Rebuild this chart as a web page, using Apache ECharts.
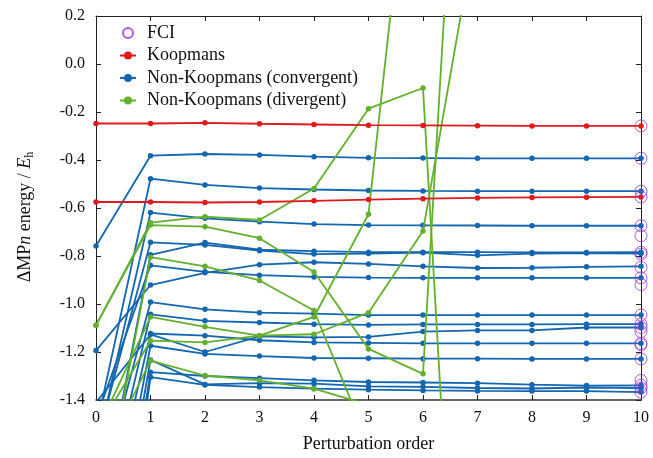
<!DOCTYPE html>
<html><head><meta charset="utf-8">
<script src="https://cdn.jsdelivr.net/npm/echarts@6/dist/echarts.min.js"></script>
<style>html,body{margin:0;padding:0;background:#fff}#c{width:653px;height:458px}</style>
</head><body><div id="c"></div>
<script>
// perturbation orders (x categories)
const orders = [0,1,2,3,4,5,6,7,8,9,10];

// FCI reference energies (all plotted at order 10)
const fciOrder = 10;
const fciValues = [-0.258,-0.393,-0.530,-0.554,-0.674,-0.715,-0.784,-0.792,-0.847,-0.891,-0.919,
  -1.046,-1.084,-1.098,-1.115,-1.164,-1.170,-1.229,-1.318,-1.339,-1.350,-1.367];

// Koopmans states
const koopA = [-0.248,-0.248,-0.245,-0.249,-0.252,-0.255,-0.256,-0.257,-0.258,-0.258,-0.258];
const koopB = [-0.575,-0.575,-0.577,-0.575,-0.570,-0.565,-0.561,-0.558,-0.556,-0.555,-0.554];

// Non-Koopmans convergent states
const convA = [-0.758,-0.382,-0.375,-0.379,-0.386,-0.391,-0.392,-0.393,-0.393,-0.393,-0.393];
const convB = [-1.52,-0.478,-0.504,-0.517,-0.523,-0.527,-0.529,-0.530,-0.530,-0.530,-0.530];
const convC = [-1.61,-0.619,-0.643,-0.657,-0.667,-0.671,-0.672,-0.673,-0.674,-0.674,-0.674];
const convD = [-1.59,-0.743,-0.754,-0.778,-0.792,-0.790,-0.786,-0.797,-0.790,-0.788,-0.790];
const convE = [-1.97,-0.795,-0.744,-0.774,-0.780,-0.784,-0.784,-0.784,-0.785,-0.785,-0.784];
const convF = [-1.48,-0.839,-0.866,-0.880,-0.887,-0.890,-0.891,-0.891,-0.891,-0.891,-0.891];
const convG = [-1.194,-0.921,-0.870,-0.836,-0.826,-0.833,-0.843,-0.850,-0.849,-0.845,-0.843];
const convH = [-1.84,-0.992,-1.022,-1.036,-1.040,-1.046,-1.046,-1.046,-1.046,-1.046,-1.046];
const convI = [-2.00,-1.043,-1.070,-1.077,-1.084,-1.087,-1.085,-1.085,-1.085,-1.084,-1.084];
const convJ = [-2.10,-1.123,-1.132,-1.151,-1.160,-1.162,-1.164,-1.164,-1.164,-1.164,-1.164];
const convK = [-1.41,-1.127,-1.200,-1.135,-1.139,-1.137,-1.115,-1.110,-1.110,-1.098,-1.098];
const convL = [-2.36,-1.174,-1.208,-1.217,-1.225,-1.226,-1.228,-1.228,-1.229,-1.229,-1.229];
const convM = [-2.52,-1.233,-1.335,-1.330,-1.332,-1.343,-1.345,-1.350,-1.352,-1.348,-1.350];
const convN = [-2.71,-1.284,-1.300,-1.309,-1.318,-1.325,-1.327,-1.330,-1.336,-1.340,-1.339];
const convO = [-2.97,-1.305,-1.337,-1.346,-1.353,-1.357,-1.360,-1.362,-1.363,-1.363,-1.367];

// Non-Koopmans divergent states (later orders leave the plotted range)
const divA = [-1.089,-0.661,-0.636,-0.650,-0.519,-0.186,-0.100,-4.05];
const divB = [-1.089,-0.671,-0.678,-0.726,-0.867,-1.187,-1.291,2.57];
const divC = [-2.00,-0.805,-0.843,-0.902,-1.027,-1.58];
const divD = [-1.54,-1.054,-1.095,-1.132,-1.054,-0.626,1.44];
const divE = [-1.535,-1.153,-1.160,-1.132,-1.126,-1.036,-0.696,0.60];
const divF = [-1.70,-1.236,-1.298,-1.318,-1.353,-1.42];

const koopmansStates = [koopA, koopB];
const convergentStates = [convA,convB,convC,convD,convE,convF,convG,convH,convI,convJ,convK,convL,convM,convN,convO];
const divergentStates = [divA,divB,divC,divD,divE,divF];

const RED = '#e01a1c', BLUE = '#1466b0', GREEN = '#63b02e', PURPLE = '#9b30dc';
const FONT = 'Liberation Serif';

function lineSeries(name, color, values, z) {
  return {
    type: 'line', name: name, z: z,
    data: values.map((v, i) => [orders[i], v]),
    symbol: 'circle', symbolSize: 5.5, showSymbol: true,
    lineStyle: { color: color, width: 1.8 },
    itemStyle: { color: color },
    clip: true, animation: false, silent: true
  };
}

const series = [];
convergentStates.forEach(s => series.push(lineSeries('Non-Koopmans (convergent)', BLUE, s, 2)));
divergentStates.forEach(s => series.push(lineSeries('Non-Koopmans (divergent)', GREEN, s, 3)));
koopmansStates.forEach(s => series.push(lineSeries('Koopmans', RED, s, 4)));
series.push({
  type: 'scatter', name: 'FCI', z: 5, clip: false, animation: false,
  data: fciValues.map(v => [fciOrder, v]),
  symbol: 'circle', symbolSize: 12,
  itemStyle: { color: 'rgba(0,0,0,0)', borderColor: PURPLE, borderWidth: 1 }
});

const chart = echarts.init(document.getElementById('c'), null, { renderer: 'canvas' });
const tickStyle = { show: true, inside: true, length: 5, lineStyle: { color: '#222' } };
const axisCommonX = {
  type: 'value', min: 0, max: 10, interval: 1,
  splitLine: { show: false },
  axisLine: { show: true, onZero: false, lineStyle: { color: '#222', width: 1 } },
  axisTick: tickStyle
};
const axisCommonY = {
  type: 'value', min: -1.4, max: 0.2, interval: 0.2,
  splitLine: { show: false },
  axisLine: { show: true, onZero: false, lineStyle: { color: '#222', width: 1 } },
  axisTick: tickStyle
};
chart.setOption({
  animation: false,
  backgroundColor: '#fff',
  textStyle: { fontFamily: FONT },
  grid: { left: 96, right: 12, top: 16, bottom: 55, containLabel: false },
  legend: {
    orient: 'vertical', left: 119, top: 23, padding: 0,
    itemWidth: 16, itemHeight: 10, itemGap: 2.5,
    data: ['FCI', 'Koopmans', 'Non-Koopmans (convergent)', 'Non-Koopmans (divergent)'],
    textStyle: { fontFamily: FONT, fontSize: 18, color: '#111', lineHeight: 20, padding: [0, 0, 0, 6] }
  },
  xAxis: [
    Object.assign({}, axisCommonX, {
      position: 'bottom',
      axisLine: { show: true, onZero: false, lineStyle: { color: '#333', width: 1.5 } },
      axisLabel: { show: true, margin: 10, fontFamily: FONT, fontSize: 16, color: '#111' },
      name: 'Perturbation order', nameLocation: 'middle', nameGap: 35,
      nameTextStyle: { fontFamily: FONT, fontSize: 18, color: '#111' }
    }),
    Object.assign({}, axisCommonX, { position: 'top', axisLabel: { show: false } })
  ],
  yAxis: [
    Object.assign({}, axisCommonY, {
      position: 'left',
      axisLabel: {
        show: true, margin: 11, fontFamily: FONT, fontSize: 16, color: '#111',
        formatter: v => (Math.abs(v) < 1e-9 ? 0 : v).toFixed(1)
      },
      name: '{a|ΔMP}{i|n}{a| energy / }{i|E}{s|h}',
      nameLocation: 'middle', nameGap: 60, nameRotate: 90,
      nameTextStyle: {
        fontFamily: FONT, fontSize: 18, color: '#111', padding: [0, 18, 0, 0],
        rich: {
          a: { fontFamily: FONT, fontSize: 18, color: '#111', lineHeight: 22 },
          i: { fontFamily: FONT, fontSize: 18, color: '#111', fontStyle: 'italic', lineHeight: 22 },
          s: { fontFamily: FONT, fontSize: 12, color: '#111', verticalAlign: 'bottom', lineHeight: 11 }
        }
      }
    }),
    Object.assign({}, axisCommonY, { position: 'right', axisLabel: { show: false } })
  ],
  series: series
});
</script>
</body></html>
